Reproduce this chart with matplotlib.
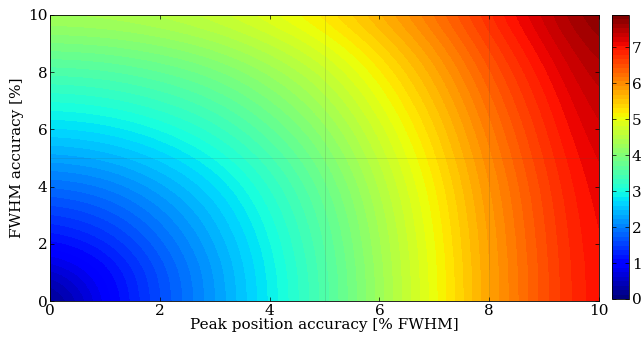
import numpy as np
import matplotlib.pyplot as plt

# grid positions (peak position accuracy, FWHM accuracy)
x_pos = [0, 1, 2, 3, 4, 5, 6, 7, 8, 9, 10]
y_pos = [0, 1, 2, 3, 4, 5, 6, 7, 8, 9, 10]

# values, one row per y position
row_y0 = [0.00, 0.92, 1.60, 2.20, 2.86, 3.50, 4.25, 5.00, 5.80, 6.50, 7.10]
row_y1 = [0.50, 1.00, 1.63, 2.22, 2.88, 3.51, 4.26, 5.01, 5.81, 6.50, 7.10]
row_y2 = [1.05, 1.30, 1.80, 2.33, 2.95, 3.57, 4.30, 5.04, 5.83, 6.53, 7.12]
row_y3 = [1.45, 1.62, 2.02, 2.48, 3.06, 3.65, 4.36, 5.09, 5.87, 6.56, 7.15]
row_y4 = [1.85, 1.97, 2.29, 2.69, 3.21, 3.77, 4.46, 5.16, 5.93, 6.61, 7.20]
row_y5 = [2.28, 2.37, 2.62, 2.96, 3.42, 3.94, 4.59, 5.27, 6.02, 6.69, 7.26]
row_y6 = [2.70, 2.77, 2.97, 3.26, 3.67, 4.14, 4.75, 5.40, 6.13, 6.78, 7.35]
row_y7 = [3.10, 3.16, 3.33, 3.57, 3.94, 4.37, 4.94, 5.56, 6.26, 6.89, 7.44]
row_y8 = [3.50, 3.55, 3.69, 3.90, 4.23, 4.62, 5.15, 5.74, 6.41, 7.02, 7.56]
row_y9 = [3.95, 3.99, 4.11, 4.29, 4.58, 4.93, 5.42, 5.96, 6.60, 7.18, 7.70]
row_y10 = [4.38, 4.42, 4.52, 4.69, 4.94, 5.26, 5.70, 6.21, 6.80, 7.36, 7.86]

cbar_ticks = [0, 1, 2, 3, 4, 5, 6, 7]
vmax = 7.9

Z = np.array([row_y0, row_y1, row_y2, row_y3, row_y4, row_y5, row_y6,
              row_y7, row_y8, row_y9, row_y10])

plt.rcParams['font.family'] = 'DejaVu Serif'
fig = plt.figure(figsize=(6.42, 3.39), dpi=100)
ax = fig.add_axes([0.078, 0.112, 0.855, 0.844])
cax = fig.add_axes([0.953, 0.118, 0.027, 0.838])

dx = (x_pos[1] - x_pos[0]) / 2
dy = (y_pos[1] - y_pos[0]) / 2
im = ax.imshow(Z, origin='lower', aspect='auto', cmap=plt.get_cmap('jet', 64),
               vmin=0, vmax=vmax, interpolation='bicubic', interpolation_stage='data',
               extent=(x_pos[0] - dx, x_pos[-1] + dx, y_pos[0] - dy, y_pos[-1] + dy))

# faint tile seams visible in the original
for xv in [5, 8]:
    ax.axvline(xv, color='0.3', lw=0.6, alpha=0.2)
ax.axhline(5, color='0.3', lw=0.6, alpha=0.15)

ax.set_xlim(0, 10)
ax.set_ylim(0, 10)
ax.set_xticks([0, 2, 4, 6, 8, 10])
ax.set_yticks([0, 2, 4, 6, 8, 10])
ax.tick_params(direction='in', top=True, right=True, labelsize=11, length=3, width=0.5, pad=2)
for s in ax.spines.values():
    s.set_linewidth(0.6)
ax.set_xlabel('Peak position accuracy [% FWHM]', fontsize=11, labelpad=0)
ax.set_ylabel('FWHM accuracy [%]', fontsize=11, labelpad=3)

cb = fig.colorbar(im, cax=cax, ticks=cbar_ticks)
cb.ax.tick_params(direction='in', left=True, right=True, labelsize=11, length=3, width=0.5, pad=2)
cb.outline.set_linewidth(0.6)

fig.savefig('out.png', dpi=100)
